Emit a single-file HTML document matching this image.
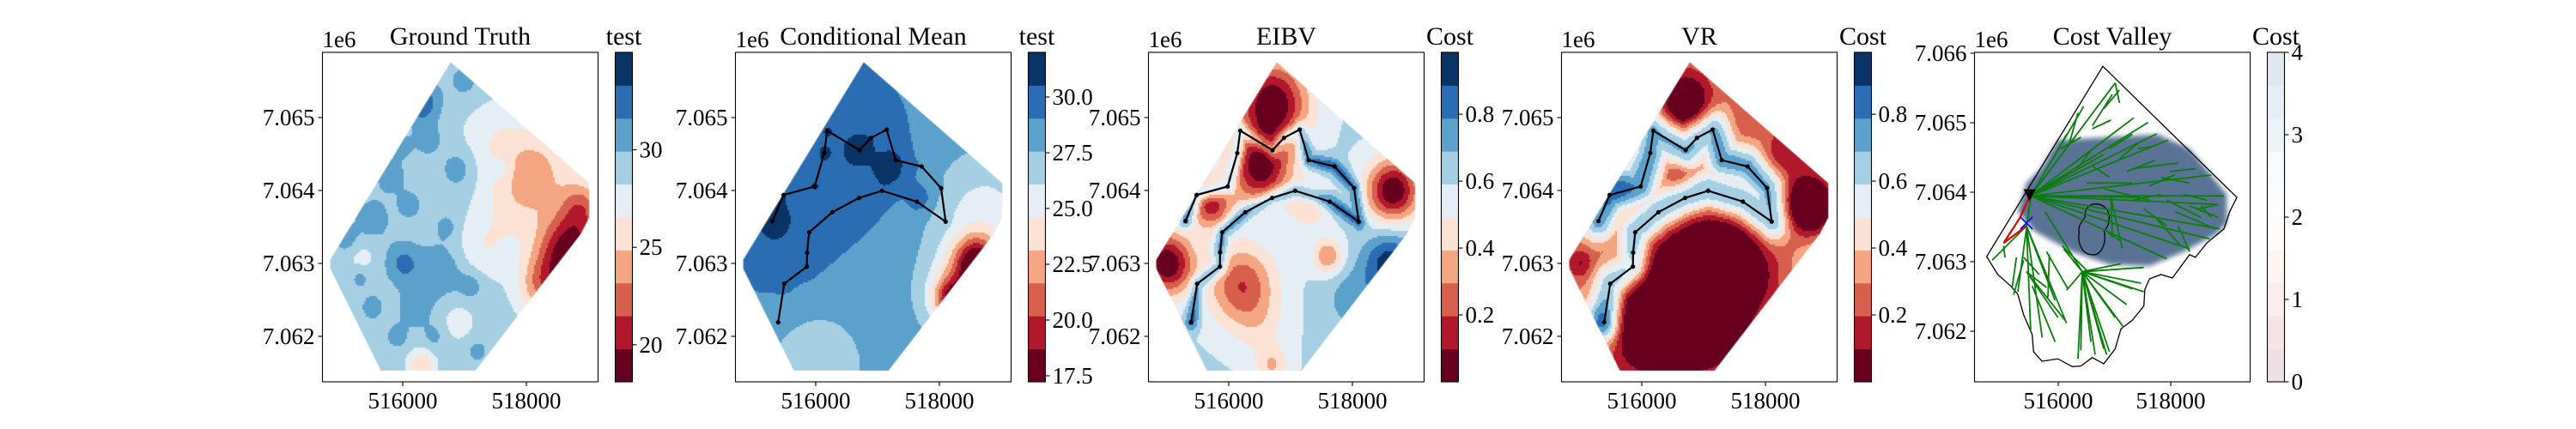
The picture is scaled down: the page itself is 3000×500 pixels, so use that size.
<!DOCTYPE html>
<html><head><meta charset="utf-8">
<style>
html,body{margin:0;padding:0;background:#fff;}
#wrap{position:relative;width:3000px;height:500px;overflow:hidden;background:#fff;}
canvas{position:absolute;}
svg{position:absolute;left:0;top:0;}
text{font-family:"Liberation Serif","DejaVu Serif",serif;fill:#000;}
</style></head>
<body>
<div id="wrap">
<canvas id="c0" width="321" height="384" style="left:375.5px;top:61px"></canvas>
<canvas id="c1" width="321" height="384" style="left:856.5px;top:61px"></canvas>
<canvas id="c2" width="321" height="384" style="left:1337.5px;top:61px"></canvas>
<canvas id="c3" width="321" height="384" style="left:1818.5px;top:61px"></canvas>
<svg id="svg" width="3000" height="500" xmlns="http://www.w3.org/2000/svg"></svg>
</div>
<script>
// ---------- data ----------
const panelTitles = ["Ground Truth","Conditional Mean","EIBV","VR","Cost Valley"];
const cbarLabels = ["test","test","Cost","Cost","Cost"];
const xTicks = [516000, 518000];
const yTicksA = [7065000, 7064000, 7063000, 7062000];
const yTicksB = [7066000, 7065000, 7064000, 7063000, 7062000];
const cbarTicks = [[30,25,20],[30.0,27.5,25.0,22.5,20.0,17.5],[0.8,0.6,0.4,0.2],[0.8,0.6,0.4,0.2],[0,1,2,3,4]];
const cbarTickText = [["30","25","20"],["30.0","27.5","25.0","22.5","20.0","17.5"],["0.8","0.6","0.4","0.2"],["0.8","0.6","0.4","0.2"],["0","1","2","3","4"]];
const cbarRange = [[18.1,35.0],[17.23,32.0],[0,0.985],[0,0.985],[0,4]];
// survey domain polygon
const domainX = [516770,519010,519010,518870,517170,515640,514820,514820];
const domainY = [7065760,7064100,7063630,7063400,7061530,7061530,7062930,7063050];
// sampling path
const pathX = [515392,515490,515856,515860,515894,516269,516701,517074,517635,518101,518028,517712,517293,517147,516893,516708,516186,516138,515982,515480,515300];
const pathY = [7062192,7062721,7062956,7063149,7063427,7063702,7063898,7063996,7063847,7063573,7064032,7064329,7064416,7064835,7064721,7064553,7064820,7064514,7064055,7063938,7063580];
// field blobs: [x, y, amplitude, radius]
const baseVals = [29.0, 28.3, 0.6, 0.3];
const blobsGT = [[518700,7063200,-10,350],[518300,7062700,-6,300],[518900,7063800,-5,250],[518200,7064300,-4,400],[517800,7063800,-2.5,400],[517500,7064700,-2,400],[516300,7061600,-4,150],[517300,7063200,-2,300],[515300,7063100,-1.5,200],[516300,7065200,4,200],[516000,7063000,3,200],[516600,7062900,2.5,250],[515500,7063600,2,200],[516900,7064300,2,200],[516200,7062400,2,200],[515100,7063300,2,150],[517000,7065500,1.5,200],[515800,7064200,1.8,180],[516900,7062200,-1.5,200],
[515500,7062400,2,120],[516400,7064700,2,150],[516100,7063800,2,130],[517100,7062700,2,140],[515900,7062000,1.8,120],[516700,7063500,1.8,120],[515300,7062800,1.8,110],[516500,7062000,1.5,120],[517600,7064300,1.6,120],[516000,7064600,1.4,120],[517200,7061800,1.6,120]];
const blobsCM = [[516300,7064600,2,900],[515300,7063300,1.5,600],[515300,7063600,1.5,150],[517200,7064300,2,200],[516700,7064550,1.5,130],[517700,7063900,1.5,150],[518700,7063600,-3,600],[516000,7061600,-2,500],[518300,7062600,-4,400],[518600,7063000,-9,250],[518200,7062500,-7,200]];
const blobsEI = [[516700,7065200,-0.6,400],[516500,7064300,-0.55,350],[518650,7064000,-0.6,300],[515000,7063000,-0.6,300],[516200,7062700,-0.4,380],[515700,7063800,-0.45,230],[517600,7063100,-0.3,170],[517300,7063800,-0.2,220],[516700,7061600,-0.2,180],[518600,7063000,0.35,300],[518000,7062500,0.15,300],[516500,7062100,-0.1,300]];
const blobsVR = [[516800,7062500,-0.6,650],[517300,7062900,-0.5,450],[516100,7062100,-0.4,380],[518700,7063800,-0.6,250],[516700,7065200,-0.45,280],[515000,7063000,-0.2,150],[518300,7064500,-0.2,250],[517700,7065000,-0.1,200],[518900,7062900,0.25,250],[518200,7062100,0.25,250],[515300,7062200,0.2,200],[515500,7064200,0.2,250],[516600,7064200,-0.15,150]];
const pathBoost = [0, 0.35, 0.25, 0.45];
const pathRadius = [100, 90, 80, 190];
const pathMode = ["none","nodes","segments","segments"];
// cost valley
const valleyX = [516794,519176,519049,518947,518641,518438,518336,518030,517827,517623,517540,517522,517318,517115,517012,516809,516606,516402,516249,515995,515710,515562,515537,515384,515282,515155,514925,514728];
const valleyY = [7065811,7063926,7063720,7063473,7063268,7063062,7063102,7062765,7062815,7062753,7062600,7062362,7062157,7062033,7061745,7061530,7061621,7061498,7061490,7061602,7061568,7061704,7061951,7062238,7062530,7062651,7062815,7063074];
const regionX = [515995,517776,518336,518997,518997,518794,518234,517623,516911,516249,515588,515282,515435,515690];
const regionY = [7064749,7064831,7064626,7063967,7063556,7063391,7063144,7062938,7062959,7063144,7063432,7063720,7064132,7064337];

const RdBu = ["#67001f","#b2182b","#d6604d","#f4a582","#fbe2d5","#e4eef4","#a7cfe4","#5ba1cc","#2a6db3","#0a3366"];
const paleCols = ["#ece0e4","#f5e3e5","#faecea","#fef4f0","#fffbf8","#fcfdfe","#f5fafc","#ebf3f9","#e5edf5","#e1e7ee"];
const L = [375.5,856.5,1337.5,1818.5,2299.5];
const TOP=61, BOT=445, W=321;
const NS="http://www.w3.org/2000/svg";
const svg=document.getElementById('svg');
function mk(tag,attrs,parent){const e=document.createElementNS(NS,tag);for(const k in attrs)e.setAttribute(k,attrs[k]);(parent||svg).appendChild(e);return e;}
function txt(s,x,y,size,anchor,parent){const t=mk('text',{x:x,y:y,'font-size':size,'text-anchor':anchor||'start'},parent);t.textContent=s;return t;}
function sxA(i,x){return L[i]+93.5+(x-516000)*0.072;}
function syA(y){return 137+(7065000-y)*0.085;}
function sxB(x){return L[4]+97.5+(x-516000)*0.0655;}
function syB(y){return 143+(7065000-y)*0.081;}
function segDist2(x,y){let best=1e18;for(let k=0;k<pathX.length-1;k++){const ax=pathX[k],ay=pathY[k],bx=pathX[k+1]-ax,by=pathY[k+1]-ay;let t=((x-ax)*bx+(y-ay)*by)/(bx*bx+by*by);t=Math.max(0,Math.min(1,t));const dx=x-ax-t*bx,dy=y-ay-t*by;const d=dx*dx+dy*dy;if(d<best)best=d;}return best;}
function nodeDist2(x,y){let best=1e18;for(let k=0;k<pathX.length;k++){const dx=x-pathX[k],dy=y-pathY[k];const d=dx*dx+dy*dy;if(d<best)best=d;}return best;}

// ---------- fields ----------
const blobSets=[blobsGT,blobsCM,blobsEI,blobsVR];
for(let p=0;p<4;p++){
  const ctx=document.getElementById('c'+p).getContext('2d');
  ctx.beginPath();
  domainX.forEach((x,k)=>{const X=sxA(p,x)-L[p],Y=syA(domainY[k])-TOP;k?ctx.lineTo(X,Y):ctx.moveTo(X,Y);});
  ctx.closePath();ctx.clip();
  const [lo,hi]=cbarRange[p];const step=(hi-lo)/10;
  const cs=2, pr=pathRadius[p];
  for(let cy=0;cy<384;cy+=cs){for(let cx=0;cx<W;cx+=cs){
    const x=516000+(cx+1-93.5)/0.072, y=7065000-(cy+1+TOP-137)/0.085;
    let v=baseVals[p];
    for(const b of blobSets[p]){const dx=x-b[0],dy=y-b[1];v+=b[2]*Math.exp(-(dx*dx+dy*dy)/(2*b[3]*b[3]));}
    if(pathMode[p]!=="none"){const d2=pathMode[p]==="nodes"?nodeDist2(x,y):segDist2(x,y);v+=pathBoost[p]*Math.exp(-d2/(2*pr*pr));}
    let idx=Math.floor((v-lo)/step);idx=Math.max(0,Math.min(9,idx));
    ctx.fillStyle=RdBu[idx];ctx.fillRect(cx,cy,cs,cs);
  }}
}

// ---------- axes, ticks, colorbars ----------
for(let p=0;p<5;p++){
  const g=mk('g',{});
  
  
  const t=txt(panelTitles[p],L[p]+W/2,52,30,'middle',g);
  
  const e=txt('1e6',L[p],55,27,'start',g);
  
  const fr=mk('rect',{x:L[p],y:TOP,width:W,height:BOT-TOP,fill:'none',stroke:'#000','stroke-width':1.1},g);
  
  xTicks.forEach(v=>{const X=p<4?sxA(p,v):sxB(v);
    mk('line',{x1:X,y1:BOT,x2:X,y2:BOT+5,stroke:'#000','stroke-width':1.1},g);
    const tl=txt(String(v),X,BOT+31,27,'middle',g);});
  (p<4?yTicksA:yTicksB).forEach(v=>{const Y=p<4?syA(v):syB(v);
    mk('line',{x1:L[p]-5,y1:Y,x2:L[p],y2:Y,stroke:'#000','stroke-width':1.1},g);
    const tl=txt((v/1e6).toFixed(3),L[p]-9,Y+9,27,'end',g);});
  const cx=L[p]+341,cw=20,bh=(BOT-TOP)/10;
  const cols=p<4?RdBu:paleCols;
  for(let k=0;k<10;k++){const r=mk('rect',{x:cx,y:BOT-(k+1)*bh,width:cw,height:bh+0.5,fill:cols[k]},g);
    }
  mk('rect',{x:cx,y:TOP,width:cw,height:BOT-TOP,fill:'none',stroke:'#000','stroke-width':1.1},g);
  const [lo,hi]=cbarRange[p];
  cbarTicks[p].forEach((v,k)=>{const Y=BOT-(v-lo)/(hi-lo)*(BOT-TOP);
    mk('line',{x1:cx+cw,y1:Y,x2:cx+cw+5,y2:Y,stroke:'#000','stroke-width':1.1},g);
    const tl=txt(cbarTickText[p][k],cx+cw+8,Y+9,27,'start',g);});
  const cl=txt(cbarLabels[p],cx+cw/2,52,30,'middle',g);
  
  if(p>=1&&p<=3){
    const pts=pathX.map((x,k)=>sxA(p,x)+','+syA(pathY[k])).join(' ');
    const pl=mk('polyline',{points:pts,fill:'none',stroke:'#000','stroke-width':2.2},g);
    
    pathX.forEach((x,k)=>{const c=mk('circle',{cx:sxA(p,x),cy:syA(pathY[k]),r:2.6,fill:'#000'},g);
      });
  }
}

// ---------- cost valley ----------
const g5=mk('g',{});


const defs=mk('defs',{});
const flt=mk('filter',{id:'bl',x:'-10%',y:'-10%',width:'120%',height:'120%'},defs);
mk('feGaussianBlur',{stdDeviation:3},flt);
const reg=mk('polygon',{points:regionX.map((x,k)=>sxB(x)+','+syB(regionY[k])).join(' '),fill:'#5a7394',filter:'url(#bl)'},g5);

const outl=mk('polygon',{points:valleyX.map((x,k)=>sxB(x)+','+syB(valleyY[k])).join(' '),fill:'none',stroke:'#000','stroke-width':1.3},g5);

const ox=sxB(516631),oy=syB(7063473);
const obs=mk('path',{d:`M${ox+2},${oy-29} C${ox+20},${oy-29} ${ox+22},${oy-8} ${ox+12},${oy+3} C${ox+16},${oy+15} ${ox+8},${oy+33} ${ox-2},${oy+30} C${ox-14},${oy+30} ${ox-19},${oy+16} ${ox-17},${oy+4} C${ox-19},${oy-4} ${ox-12},${oy-10} ${ox-10},${oy-14} C${ox-11},${oy-22} ${ox-6},${oy-29} ${ox+2},${oy-29} Z`,fill:'none',stroke:'#000','stroke-width':1.3},g5);

const treeSegs=[[345,685,640,290],[345,685,530,372],[345,685,705,412],[345,685,755,428],[345,685,785,468],[345,685,825,490],[345,685,975,612],[345,685,1020,685],[345,685,1000,715],[345,685,1005,800],[345,685,970,835],[345,685,900,870],[345,685,820,905],[345,685,720,690],[345,685,600,540],
[480,500,510,395],[560,440,630,330],[600,380,655,315],[620,520,700,470],[700,590,860,570],[800,620,900,640],[820,700,940,760],[850,740,990,800],[880,680,960,700],[930,730,1000,715],[940,720,975,760],[760,650,850,610],[680,600,780,560],[560,580,620,620],[700,700,800,680],[420,560,470,470],[860,790,900,880],[780,760,870,860],[640,290,655,360],[625,420,560,450],
[450,520,520,480],[500,600,560,520],[540,640,700,640],[600,660,760,700],[650,560,720,500],[720,520,780,510],[830,600,920,590],[740,730,820,790],[900,720,1000,760],
[330,790,210,910],[250,860,255,900],[295,900,280,1005],[330,790,345,1160],[330,790,385,1180],[330,790,470,1130],[330,790,430,1050],[320,900,375,960],[320,910,285,1030],[330,950,440,1110],[330,950,465,1120],[330,950,400,1005],[330,800,300,1020],[350,1000,430,1195],
[525,950,520,1225],[525,950,555,1195],[525,950,570,1240],[525,950,610,1240],[525,950,620,1230],[525,950,670,1145],[525,950,680,1065],[525,950,740,1020],[525,950,740,935],[525,950,660,922],[525,950,600,1220],[525,950,460,870],[395,740,525,950],[455,860,545,950],[525,950,640,1110],[525,950,730,990],[525,950,700,1010],[525,950,510,1255],[525,950,470,1015],[400,880,475,1010],[410,890,405,1040],[625,690,630,830],[625,690,665,870],[610,810,655,840],[330,790,345,690]];
treeSegs.forEach(s=>{const l=mk('line',{x1:2250+s[0]/3,y1:s[1]/3,x2:2250+s[2]/3,y2:s[3]/3,stroke:'#0a7d0a','stroke-width':1.8},g5);
  
  });
const rp=mk('polyline',{points:`${2250+340/3},${690/3} ${2250+308/3},${760/3} ${2250+250/3},${850/3} ${2250+330/3},${790/3}`,fill:'none',stroke:'#e00000','stroke-width':2.2},g5);

const bx=2250+330/3,by=780/3;
const xm=mk('path',{d:`M${bx-7},${by-7}L${bx+7},${by+7}M${bx-7},${by+7}L${bx+7},${by-7}`,stroke:'#0000ff','stroke-width':1.6,fill:'none'},g5);

const tx=2250+341/3,ty=683/3;
const tri=mk('polygon',{points:`${tx-7},${ty-7} ${tx+7},${ty-7} ${tx},${ty+7}`,fill:'#000'},g5);

</script>
</body></html>
